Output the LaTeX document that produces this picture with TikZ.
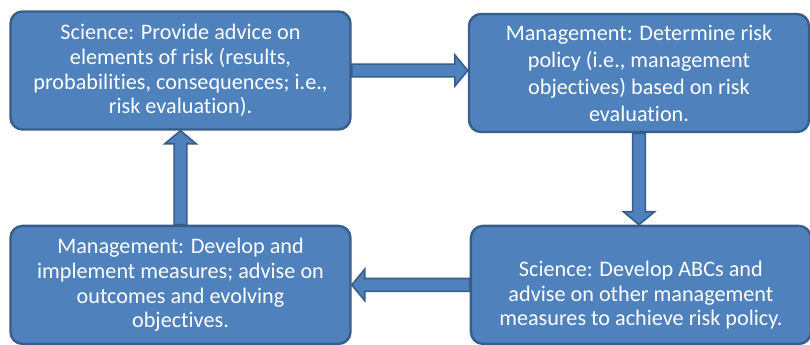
\documentclass[tikz,border=0pt]{standalone}
\usepackage{fontspec}
\setmainfont{Carlito}[Ligatures=NoCommon]
\usetikzlibrary{positioning,calc,backgrounds}

\definecolor{stagefill}{RGB}{79,129,189}
\definecolor{stageline}{RGB}{56,93,138}

\tikzset{
  stage/.style={draw=stageline, fill=stagefill, line width=1.2pt,
    rounded corners=6pt, text=white, align=center, inner sep=0pt,
    minimum width=170pt, minimum height=59pt,
    font=\fontsize{11.1}{12.4}\selectfont},
  blockarrow/.style={draw=stageline, fill=stagefill, line width=0.8pt,
    to path={let \p1=(\tikztostart), \p2=(\tikztotarget),
      \n1={veclen(\x2-\x1,\y2-\y1)}, \n2={atan2(\y2-\y1,\x2-\x1)} in
      {[shift={(\p1)}, rotate=\n2]
        (0pt,3.2pt) -- (\n1-6.5pt,3.2pt) -- (\n1-6.5pt,7.8pt)
        -- (\n1,0pt) -- (\n1-6.5pt,-7.8pt) -- (\n1-6.5pt,-3.2pt)
        -- (0pt,-3.2pt) -- cycle}}}
}

\begin{document}
\begin{tikzpicture}[x=0.5pt, y=-0.5pt]

    \useasboundingbox (0,0) rectangle (810,344);

    % Nodes

    \node[stage] (sci1) at (180.5,70.5) {Science: Provide advice on\\elements of risk (results,\\probabilities, consequences; i.e.,\\risk evaluation).};
    \node[stage, font=\fontsize{11.1}{13.5}\selectfont] (mgmt1) at (639,73) {Management: Determine risk\\policy (i.e., management\\objectives) based on risk\\evaluation.};
    \node[stage, below=47pt of sci1] (mgmt2) {Management: Develop and\\implement measures; advise on\\outcomes and evolving\\objectives.};
    \node[stage, right=59pt of mgmt2] (sci2) {\rule{0pt}{18pt}Science: Develop ABCs and\\advise on other management\\measures to achieve risk policy.};

    % Edges

    \begin{scope}[on background layer]
        \draw[blockarrow] (sci1.east) to (sci1.east -| mgmt1.west);
        \draw[blockarrow] (mgmt1.south) to (mgmt1.south |- sci2.north);
        \draw[blockarrow] (sci2.west) to (sci2.west -| mgmt2.east);
        \draw[blockarrow] (mgmt2.north) to (mgmt2.north |- sci1.south);
    \end{scope}

\end{tikzpicture}
\end{document}
